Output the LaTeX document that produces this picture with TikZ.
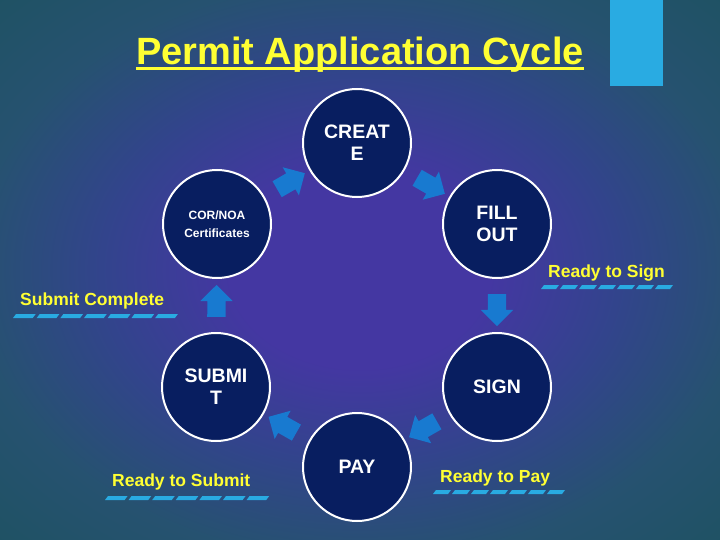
\documentclass[tikz,border=0pt]{standalone}
\usepackage{fontspec}
\setmainfont{Liberation Sans}
\usetikzlibrary{shapes.arrows,calc}

\definecolor{bgin}{RGB}{68,55,162}
\definecolor{bgmid}{RGB}{50,68,140}
\definecolor{bgedge}{RGB}{38,82,112}
\definecolor{bgout}{RGB}{30,82,98}
\definecolor{navy}{RGB}{8,30,96}
\definecolor{ylw}{RGB}{255,255,51}
\definecolor{accent}{RGB}{41,171,226}
\definecolor{arrowblue}{RGB}{24,122,208}

\pgfdeclareradialshading{bgglow}{\pgfpoint{0bp}{0bp}}{color(0bp)=(bgin); color(9bp)=(bgin); color(18bp)=(bgmid); color(27bp)=(bgedge); color(37bp)=(bgout); color(50bp)=(bgout)}

% seven slanted dashes under a label: #1 = start, #2 = pitch
\newcommand{\dashbar}[2]{%
  \foreach \k in {0,...,6}
    \fill[accent] ($(#1)+(\k*#2,2)$) -- ++(#2-4,0) -- ++(3,-4) -- ++(4-#2,0) -- cycle;}

\begin{document}
\begin{tikzpicture}[x=1pt,y=-1pt,
    stage/.style={circle, draw=white, line width=2pt, fill=navy, minimum size=108pt, inner sep=0pt,
      text=white, align=center, font=\fontsize{19.5}{22}\selectfont\bfseries},
    tag/.style={text=ylw, anchor=base west, inner sep=0pt, font=\fontsize{17.5}{20}\selectfont\bfseries},
    blockarrow/.style={single arrow, fill=arrowblue, minimum height=32pt, inner sep=9pt,
      single arrow head extend=7pt, sloped, allow upside down}]
  \useasboundingbox (0,0) rectangle (720,540);
  \shade[shading=bgglow] (0,0) rectangle (720,540);
  \fill[accent] (610,0) rectangle (663,86);

  % title
  \node[text=ylw, anchor=base, inner sep=0pt, font=\fontsize{38}{44}\selectfont\bfseries] (title) at (360,65) {Permit Application Cycle};
  \draw[ylw, line width=2.5pt] ([yshift=-3.5pt]title.base west) -- ([yshift=-3.5pt]title.base east);

  % stages
  \node[stage] (create) at (357,143) {CREAT\\E};
  \node[stage] (fillout) at (497,224) {FILL\\OUT};
  \node[stage] (sign) at (497,387) {SIGN};
  \node[stage] (pay) at (357,467) {PAY};
  \node[stage] (submit) at (216,387) {SUBMI\\T};
  \node[stage, font=\fontsize{12}{18}\selectfont\bfseries] (cornoa) at (217,224) {COR/NOA\\Certificates};

  % arrows
  \path (cornoa) -- node[blockarrow] {} (create);
  \path (create) -- node[blockarrow] {} (fillout);
  \path (fillout) -- node[blockarrow] {} (sign);
  \path (sign) -- node[blockarrow] {} (pay);
  \path (pay) -- node[blockarrow] {} (submit);
  \path (submit) -- node[blockarrow] {} (cornoa);

  % labels
  \node[tag] (rsign) at (548,277) {Ready to Sign};
  \node[tag] (scomplete) at (20,305) {Submit Complete};
  \node[tag] (rsubmit) at (112,486) {Ready to Submit};
  \node[tag] (rpay) at (440,482) {Ready to Pay};

  \coordinate (b1) at ([xshift=-7pt,yshift=-10pt]rsign.base west);
  \coordinate (b2) at ([xshift=-7pt,yshift=-11pt]scomplete.base west);
  \coordinate (b3) at ([xshift=-7pt,yshift=-12pt]rsubmit.base west);
  \coordinate (b4) at ([xshift=-7pt,yshift=-10pt]rpay.base west);
  \dashbar{b1}{19}
  \dashbar{b2}{23.7}
  \dashbar{b3}{23.6}
  \dashbar{b4}{19}
\end{tikzpicture}
\end{document}
